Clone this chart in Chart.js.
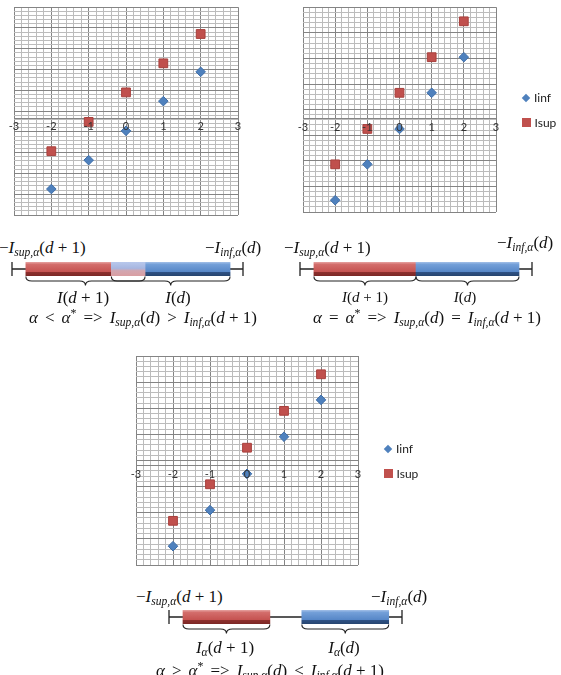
<!DOCTYPE html>
<html>
<head>
<meta charset="utf-8">
<title>Intervals</title>
<script src="https://cdn.jsdelivr.net/npm/chart.js@4.4.1/dist/chart.umd.min.js"></script>
<style>
    html, body { margin: 0; padding: 0; background: #fff; }
    body { position: relative; width: 561px; height: 675px; overflow: hidden; }
    canvas { position: absolute; display: block; }
    .m { position: absolute; font-family: "Liberation Serif", serif; font-size: 17px; line-height: 1; color: #111; white-space: nowrap; }
    .m sub { font-size: 68%; vertical-align: baseline; position: relative; top: 0.3em; }
    .m sup { font-size: 70%; vertical-align: baseline; position: relative; top: -0.5em; }
    .m .op { margin: 0 7px; }
    .c { transform: translateX(-50%); }
    .legend { position: absolute; font-family: Lato, sans-serif; font-size: 12px; color: #222; }
    .legend .item { height: 25px; display: flex; align-items: center; }
    .legend .mk { display: inline-block; width: 8.5px; height: 8.5px; margin-right: 4px; }
    .legend .mk.rectRot { width: 6px; height: 6px; margin: 0 5px 0 1px; transform: rotate(45deg); }
</style>
</head>
<body>
<canvas id="chartLt" width="250" height="225" style="left:0;top:0"></canvas>
<canvas id="chartEq" width="276" height="225" style="left:285px;top:0"></canvas>
<canvas id="chartGt" width="300" height="230" style="left:120px;top:345px"></canvas>
<div class="legend" id="legendEq" style="left:522px;top:85px"></div>
<div class="legend" id="legendGt" style="left:384px;top:436px"></div>

<canvas id="barLt" width="239" height="40" style="left:8px;top:258px"></canvas>
<canvas id="barEq" width="240" height="40" style="left:296px;top:258px"></canvas>
<canvas id="barGt" width="241" height="40" style="left:165px;top:606px"></canvas>

<!-- alpha < alpha* -->
<div class="m" style="left:-1px;top:239px">−<i>I</i><sub><i>sup,α</i></sub>(<i>d</i> + 1)</div>
<div class="m" style="left:205px;top:239px">−<i>I</i><sub><i>inf,α</i></sub>(<i>d</i>)</div>
<div class="m c" style="left:83px;top:289px"><i>I</i>(<i>d</i> + 1)</div>
<div class="m c" style="left:178px;top:289px"><i>I</i>(<i>d</i>)</div>
<div class="m c" style="left:143px;top:309px"><i>α</i><span class="op">&lt;</span><i>α</i><sup>*</sup><span class="op">=&gt;</span><i>I</i><sub><i>sup,α</i></sub>(<i>d</i>)<span class="op">&gt;</span><i>I</i><sub><i>inf,α</i></sub>(<i>d</i> + 1)</div>

<!-- alpha = alpha* -->
<div class="m" style="left:284px;top:239px">−<i>I</i><sub><i>sup,α</i></sub>(<i>d</i> + 1)</div>
<div class="m" style="left:497px;top:234px">−<i>I</i><sub><i>inf,α</i></sub>(<i>d</i>)</div>
<div class="m c" style="left:365px;top:290px;font-size:15px"><i>I</i>(<i>d</i> + 1)</div>
<div class="m c" style="left:465px;top:290px;font-size:15px"><i>I</i>(<i>d</i>)</div>
<div class="m c" style="left:427px;top:309px"><i>α</i><span class="op">=</span><i>α</i><sup>*</sup><span class="op">=&gt;</span><i>I</i><sub><i>sup,α</i></sub>(<i>d</i>)<span class="op">=</span><i>I</i><sub><i>inf,α</i></sub>(<i>d</i> + 1)</div>

<!-- alpha > alpha* -->
<div class="m" style="left:136px;top:588px">−<i>I</i><sub><i>sup,α</i></sub>(<i>d</i> + 1)</div>
<div class="m" style="left:371px;top:588px">−<i>I</i><sub><i>inf,α</i></sub>(<i>d</i>)</div>
<div class="m c" style="left:225px;top:639px"><i>I</i><sub><i>α</i></sub>(<i>d</i> + 1)</div>
<div class="m c" style="left:344px;top:639px"><i>I</i><sub><i>α</i></sub>(<i>d</i>)</div>
<div class="m c" style="left:270px;top:662px"><i>α</i><span class="op">&gt;</span><i>α</i><sup>*</sup><span class="op">=&gt;</span><i>I</i><sub><i>sup,α</i></sub>(<i>d</i>)<span class="op">&lt;</span><i>I</i><sub><i>inf,α</i></sub>(<i>d</i> + 1)</div>

<script>
// Data
const dValues = [-2, -1, 0, 1, 2];
const xTicks = [-3, -2, -1, 0, 1, 2, 3];

// alpha < alpha*
const infLt = [-3.41, -2.02, -0.61, 0.82, 2.23];
const supLt = [-1.59, -0.18, 1.24, 2.64, 4.05];
const yRangeLt = [-4.66, 5.34];

// alpha = alpha*
const infEq = [-3.18, -1.78, -0.40, 1.01, 2.40];
const supEq = [-1.78, -0.40, 1.01, 2.40, 3.80];
const yRangeEq = [-3.64, 4.35];

// alpha > alpha*
const infGt = [-3.07, -1.69, -0.30, 1.12, 2.53];
const supGt = [-2.10, -0.70, 0.70, 2.11, 3.51];
const yRangeGt = [-3.79, 4.21];

// Interval sketches (0..100 along the segment)
const lineEnds = [0, 100];
const redLt = [6, 57.6], blueLt = [43, 94.4];
const redEq = [6, 50], blueEq = [50, 94.4];
const redGt = [6, 43.3], blueGt = [57, 94.3];

// Styles
const MINOR = '#bcbcbc';
const MAJOR = '#848484';
const SUBDIV = 5;
const BLUE = '#4f81bd';
const RED = '#c0504d';

function gridLine(ctx) {
    return ctx.index % SUBDIV === 0 ? MAJOR : MINOR;
}

// Scatter charts
function makeScatter(id, inf, sup, yRange, yMajors, padding) {
    const points = ys => dValues.map((d, i) => ({ x: d, y: ys[i] }));
    const xMin = xTicks[0];
    const xMax = xTicks[xTicks.length - 1];
    return new Chart(document.getElementById(id), {
        type: 'scatter',
        data: {
            datasets: [
                {
                    label: 'Iinf',
                    data: points(inf),
                    pointStyle: 'rectRot',
                    pointRadius: 4.8,
                    backgroundColor: BLUE,
                    borderColor: '#3f6ea8',
                    borderWidth: 1
                },
                {
                    label: 'Isup',
                    data: points(sup),
                    pointStyle: 'rect',
                    pointRadius: 6.2,
                    backgroundColor: RED,
                    borderColor: '#a8403d',
                    borderWidth: 1
                }
            ]
        },
        options: {
            responsive: false,
            animation: false,
            events: [],
            layout: { padding },
            plugins: {
                legend: { display: false },
                tooltip: { enabled: false }
            },
            scales: {
                x: {
                    type: 'linear',
                    min: xMin,
                    max: xMax,
                    position: { y: 0 },
                    afterBuildTicks: axis => {
                        const n = (xMax - xMin) * SUBDIV;
                        axis.ticks = Array.from({ length: n + 1 }, (_, i) => ({ value: xMin + i / SUBDIV }));
                    },
                    grid: { color: gridLine, drawTicks: false },
                    border: { color: MAJOR },
                    ticks: {
                        z: 1,
                        autoSkip: false,
                        maxRotation: 0,
                        padding: 2,
                        color: '#333',
                        font: { family: 'Lato', size: 11 },
                        callback: (v, i) => i % SUBDIV === 0 ? String(xTicks[i / SUBDIV]) : ''
                    }
                },
                y: {
                    min: yRange[0],
                    max: yRange[1],
                    afterBuildTicks: axis => {
                        const n = yMajors * SUBDIV;
                        axis.ticks = Array.from({ length: n + 1 }, (_, i) => ({
                            value: yRange[0] + (yRange[1] - yRange[0]) * i / n
                        }));
                    },
                    grid: { color: gridLine, drawTicks: false },
                    border: { display: false },
                    ticks: { display: false }
                }
            }
        }
    });
}

function htmlLegend(chart, id) {
    document.getElementById(id).innerHTML = chart.data.datasets.map(ds =>
        `<div class="item"><span class="mk ${ds.pointStyle}" style="background:${ds.backgroundColor}"></span>${ds.label}</div>`
    ).join('');
}

// Interval sketches
function barFill(stops) {
    return ctx => {
        const area = ctx.chart.chartArea;
        if (!area) return stops[1][1];
        const g = ctx.chart.ctx.createLinearGradient(0, area.top, 0, area.bottom);
        stops.forEach(([o, c]) => g.addColorStop(o, c));
        return g;
    };
}

const redFill = barFill([[0, '#e6a3a1'], [0.18, '#d36d6b'], [0.68, '#c65452'], [0.7, '#8f302e'], [1, '#7b2725']]);
const blueFill = barFill([[0, '#a3c0e8'], [0.18, '#739fd8'], [0.68, '#5888c8'], [0.7, '#2f5387'], [1, '#27456f']]);
const mixFill = barFill([[0, '#b8c8ec'], [0.45, '#a7b6e0'], [0.62, '#d2a6b0'], [1, '#d99ea2']]);

function drawBrace(ctx, xa, xb, top, h) {
    const xm = (xa + xb) / 2;
    const r = Math.min(6, (xb - xa) / 4);
    const mid = top + h / 2;
    ctx.beginPath();
    ctx.moveTo(xa, top);
    ctx.quadraticCurveTo(xa, mid, xa + r, mid);
    ctx.lineTo(xm - r, mid);
    ctx.quadraticCurveTo(xm, mid, xm, top + h);
    ctx.quadraticCurveTo(xm, mid, xm + r, mid);
    ctx.lineTo(xb - r, mid);
    ctx.quadraticCurveTo(xb, mid, xb, top);
    ctx.stroke();
}

const intervalDecor = {
    id: 'intervalDecor',
    beforeDatasetsDraw(chart) {
        const { ctx, chartArea: a, scales: { x } } = chart;
        const yMid = (a.top + a.bottom) / 2;
        const x0 = x.getPixelForValue(lineEnds[0]);
        const x1 = x.getPixelForValue(lineEnds[1]);
        ctx.save();
        ctx.strokeStyle = '#222';
        ctx.lineWidth = 1.3;
        ctx.beginPath();
        ctx.moveTo(x0, yMid);
        ctx.lineTo(x1, yMid);
        ctx.moveTo(x0, a.top);
        ctx.lineTo(x0, a.bottom);
        ctx.moveTo(x1, a.top);
        ctx.lineTo(x1, a.bottom);
        ctx.stroke();
        ctx.restore();
    },
    afterDatasetsDraw(chart, args, opts) {
        const { ctx, chartArea: a, scales: { x } } = chart;
        ctx.save();
        ctx.strokeStyle = '#222';
        ctx.lineWidth = 1.1;
        opts.braces.forEach(([s, e]) => {
            drawBrace(ctx, x.getPixelForValue(s), x.getPixelForValue(e), a.bottom + 0.5, 9);
        });
        ctx.restore();
    }
};

function makeInterval(id, red, blue) {
    const overlap = red[1] > blue[0] ? [blue[0], red[1]] : null;
    return new Chart(document.getElementById(id), {
        type: 'bar',
        data: {
            labels: [''],
            datasets: [
                { data: [overlap], backgroundColor: mixFill, order: 0 },
                { data: [blue], backgroundColor: blueFill, order: 1 },
                { data: [red], backgroundColor: redFill, order: 2 }
            ]
        },
        options: {
            indexAxis: 'y',
            responsive: false,
            animation: false,
            events: [],
            layout: { padding: { left: 4, right: 4, top: 4, bottom: 22 } },
            datasets: {
                bar: { grouped: false, barThickness: 14, borderWidth: 0 }
            },
            scales: {
                x: { display: false, min: lineEnds[0], max: lineEnds[1] },
                y: { display: false }
            },
            plugins: {
                legend: { display: false },
                tooltip: { enabled: false },
                intervalDecor: { braces: [red, blue] }
            }
        },
        plugins: [intervalDecor]
    });
}

makeScatter('chartLt', infLt, supLt, yRangeLt, 10, { left: 14, right: 12, top: 7, bottom: 10 });
const chartEq = makeScatter('chartEq', infEq, supEq, yRangeEq, 8, { left: 18, right: 65, top: 6, bottom: 13 });
const chartGt = makeScatter('chartGt', infGt, supGt, yRangeGt, 8, { left: 16, right: 62, top: 11, bottom: 10 });
htmlLegend(chartEq, 'legendEq');
htmlLegend(chartGt, 'legendGt');

makeInterval('barLt', redLt, blueLt);
makeInterval('barEq', redEq, blueEq);
makeInterval('barGt', redGt, blueGt);
</script>
</body>
</html>
